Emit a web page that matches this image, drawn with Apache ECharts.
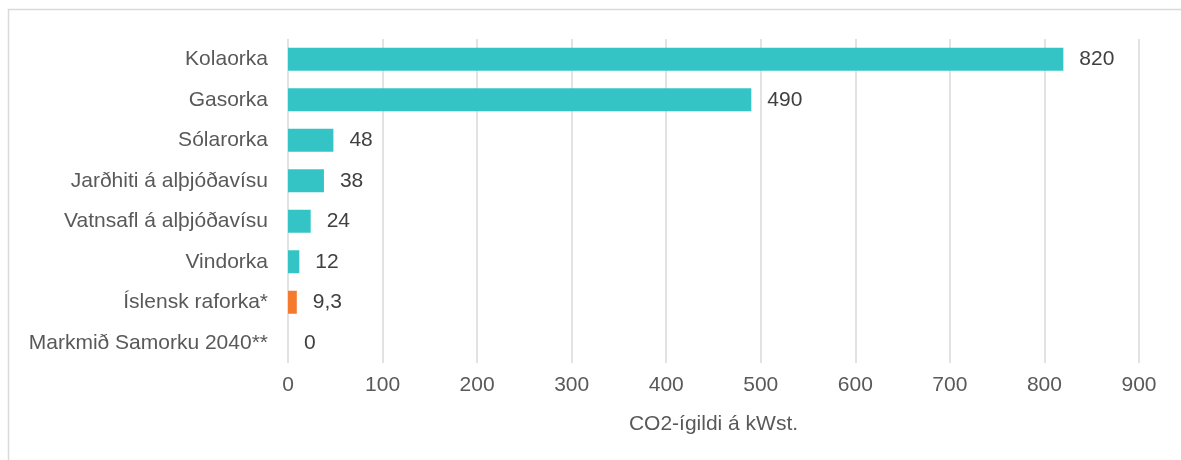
<!DOCTYPE html>
<html>
<head>
<meta charset="utf-8">
<script src="https://cdn.jsdelivr.net/npm/echarts@6/dist/echarts.min.js"></script>
<style>
  html, body { margin: 0; padding: 0; background: #fff; }
  #chart { width: 1181px; height: 460px; }
</style>
</head>
<body>
<div id="chart"></div>
<script>
// gögn
const categories = [
  'Kolaorka',
  'Gasorka',
  'Sólarorka',
  'Jarðhiti á alþjóðavísu',
  'Vatnsafl á alþjóðavísu',
  'Vindorka',
  'Íslensk raforka*',
  'Markmið Samorku 2040**'
];
const values = [820, 490, 48, 38, 24, 12, 9.3, 0];
const highlight = 'Íslensk raforka*';
const axisName = 'CO2-ígildi á kWst.';

const chart = echarts.init(document.getElementById('chart'));

const font = 'Liberation Sans, Arial, sans-serif';

const option = {
  animation: false,
  textStyle: { fontFamily: font },
  graphic: [{
    type: 'rect',
    shape: { x: 8.5, y: 9.5, width: 1300, height: 600 },
    style: { fill: 'none', stroke: '#d9d9d9', lineWidth: 1.5 },
    silent: true
  }],
  grid: { left: 288, right: 42, top: 39, bottom: 97 },
  xAxis: {
    type: 'value',
    min: 0,
    max: 900,
    interval: 100,
    name: axisName,
    nameLocation: 'middle',
    nameGap: 51,
    nameTextStyle: { color: '#595959', fontSize: 21, fontFamily: font },
    axisLine: { show: false },
    axisTick: { show: false },
    axisLabel: { color: '#595959', fontSize: 21, margin: 12, fontFamily: font },
    splitLine: { lineStyle: { color: '#d9d9d9', width: 1.5 } }
  },
  yAxis: {
    type: 'category',
    inverse: true,
    data: categories,
    axisLine: { show: false },
    axisTick: { show: false },
    axisLabel: { color: '#595959', fontSize: 21, margin: 20, fontFamily: font }
  },
  series: [{
    type: 'bar',
    barWidth: 23,
    data: values.map((v, i) => ({
      value: v,
      itemStyle: { color: categories[i] === highlight ? '#F47A2E' : '#35C4C5' }
    })),
    label: {
      show: true,
      position: 'right',
      distance: 16,
      color: '#404040',
      fontSize: 21,
      fontFamily: font,
      formatter: p => String(p.value).replace('.', ',')
    }
  }]
};

chart.setOption(option);
</script>
</body>
</html>
